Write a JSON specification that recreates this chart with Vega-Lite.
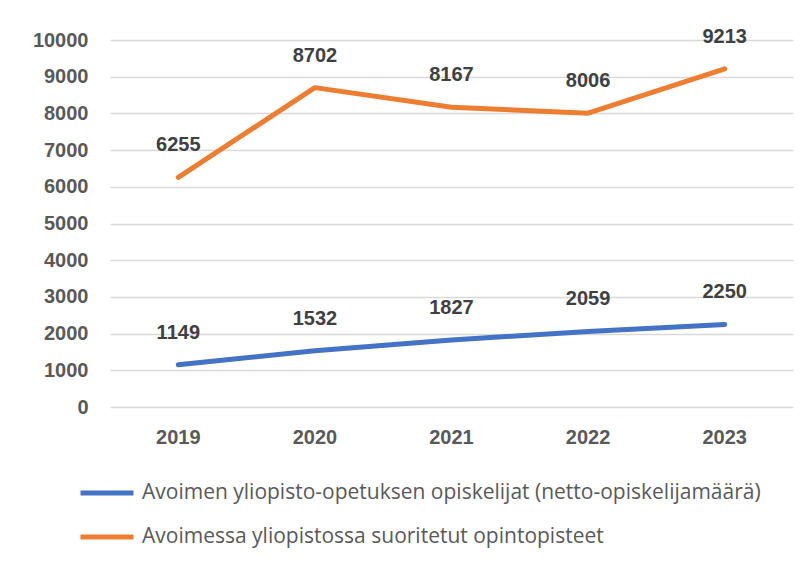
{
  "$schema": "https://vega.github.io/schema/vega-lite/v6.json",
  "width": 683,
  "height": 367,
  "autosize": {"type": "none"},
  "padding": {"left": 110, "top": 40, "right": 16, "bottom": 160},
  "background": "white",
  "config": {
    "view": {"stroke": null},
    "font": "Liberation Sans"
  },
  "data": {
    "values": [
      {"year": "2019", "series": "Avoimen yliopisto-opetuksen opiskelijat (netto-opiskelijamäärä)", "value": 1149},
      {"year": "2020", "series": "Avoimen yliopisto-opetuksen opiskelijat (netto-opiskelijamäärä)", "value": 1532},
      {"year": "2021", "series": "Avoimen yliopisto-opetuksen opiskelijat (netto-opiskelijamäärä)", "value": 1827},
      {"year": "2022", "series": "Avoimen yliopisto-opetuksen opiskelijat (netto-opiskelijamäärä)", "value": 2059},
      {"year": "2023", "series": "Avoimen yliopisto-opetuksen opiskelijat (netto-opiskelijamäärä)", "value": 2250},
      {"year": "2019", "series": "Avoimessa yliopistossa suoritetut opintopisteet", "value": 6255},
      {"year": "2020", "series": "Avoimessa yliopistossa suoritetut opintopisteet", "value": 8702},
      {"year": "2021", "series": "Avoimessa yliopistossa suoritetut opintopisteet", "value": 8167},
      {"year": "2022", "series": "Avoimessa yliopistossa suoritetut opintopisteet", "value": 8006},
      {"year": "2023", "series": "Avoimessa yliopistossa suoritetut opintopisteet", "value": 9213}
    ]
  },
  "encoding": {
    "x": {
      "field": "year", "type": "ordinal",
      "scale": {"type": "band", "paddingInner": 0, "paddingOuter": 0},
      "axis": {
        "title": null, "domain": false, "ticks": false, "grid": false,
        "labelAngle": 0, "labelFont": "Liberation Sans", "labelFontSize": 20,
        "labelFontWeight": "bold", "labelColor": "#595959", "labelPadding": 20
      }
    },
    "y": {
      "field": "value", "type": "quantitative",
      "scale": {"domain": [0, 10000], "nice": false},
      "axis": {
        "title": null, "domain": false, "ticks": false, "values": [0,1000,2000,3000,4000,5000,6000,7000,8000,9000,10000],
        "format": "d", "grid": true, "gridColor": "#d9d9d9", "gridWidth": 1.3,
        "labelFont": "Liberation Sans", "labelFontSize": 20, "labelFontWeight": "bold",
        "labelColor": "#595959", "labelPadding": 22
      }
    }
  },
  "layer": [
    {
      "mark": {"type": "line", "strokeWidth": 5, "strokeCap": "round", "strokeJoin": "round"},
      "encoding": {
        "color": {
          "field": "series", "type": "nominal",
          "scale": {
            "domain": ["Avoimen yliopisto-opetuksen opiskelijat (netto-opiskelijamäärä)", "Avoimessa yliopistossa suoritetut opintopisteet"],
            "range": ["#4472C4", "#ED7D31"]
          },
          "legend": {
            "title": null, "orient": "none", "legendX": -32, "legendY": 424,
            "direction": "vertical",
            "symbolType": "stroke", "symbolSize": 2809, "symbolStrokeWidth": 5,
            "labelFont": "Open Sans", "labelFontSize": 21, "labelColor": "#595959",
            "labelLimit": 800, "labelOffset": 6, "rowPadding": 5
          }
        }
      }
    },
    {
      "mark": {"type": "text", "dy": -32, "fontSize": 20, "fontWeight": "bold", "color": "#404040", "font": "Liberation Sans"},
      "encoding": {"text": {"field": "value", "type": "quantitative", "format": "d"}}
    }
  ]
}
